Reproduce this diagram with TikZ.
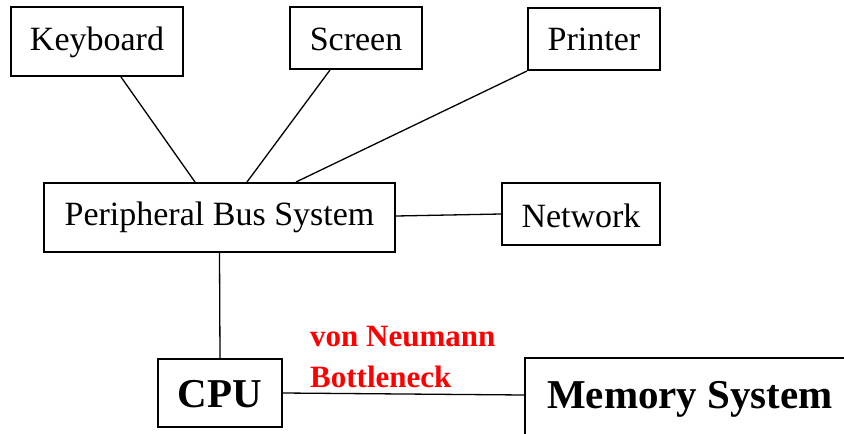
\documentclass[tikz,border=0pt]{standalone}
\usepackage{fontspec}
\setmainfont{Liberation Serif}
\begin{document}
\begin{tikzpicture}[x=1pt, y=-1pt,
  box/.style={draw, line width=2pt, inner sep=0pt, text depth=0pt,
    font=\fontsize{34}{40}\selectfont},
  bigbox/.style={box, font=\fontsize{41}{48}\selectfont\bfseries},
  wire/.style={line width=1.3pt},
  note/.style={text=red, inner sep=0pt, align=left,
    font=\fontsize{31}{41}\selectfont\bfseries}]
\useasboundingbox (0,0) rectangle (844,434);
\clip (0,0) rectangle (844,434);

% peripheral devices
\node[box, minimum width=172pt, minimum height=69pt, text height=17pt] (kb)  at (97,41.5)  {Keyboard};
\node[box, minimum width=132pt, minimum height=62pt, text height=24pt] (scr) at (356,38)   {Screen};
\node[box, minimum width=132pt, minimum height=62pt, text height=22pt] (prn) at (594,39)   {Printer};
\node[box, minimum width=158pt, minimum height=62pt, text height=26pt] (net) at (581,214)  {Network};

% bus, processor and memory
\node[box, minimum width=351pt, minimum height=69pt, text height=15pt] (pbs) at (219.5,217.5) {Peripheral Bus System};
\node[bigbox, minimum width=124pt, minimum height=68pt, text height=28pt] (cpu) at (220,393) {CPU};
\node[bigbox, minimum width=330pt, minimum height=100pt, text height=0pt] (mem) at (690,408) {Memory System};

% connections
\draw[wire] ([xshift=24pt]kb.south)  -- ([xshift=-24.5pt]pbs.north);
\draw[wire] ([xshift=-26pt]scr.south) -- ([xshift=27.5pt]pbs.north);
\draw[wire] (prn.south west) -- ([xshift=76.5pt]pbs.north);
\draw[wire] ([yshift=1.5pt]pbs.east) -- (net.west);
\draw[wire] (pbs.south) -- (cpu.north);
\draw[wire] (cpu.east) -- ([yshift=13pt]mem.west);

% bottleneck label (anchored on the baseline of its last line)
\node[note, anchor=base west] (vnb) at (310,387) {von Neumann\\Bottleneck};
\end{tikzpicture}
\end{document}
